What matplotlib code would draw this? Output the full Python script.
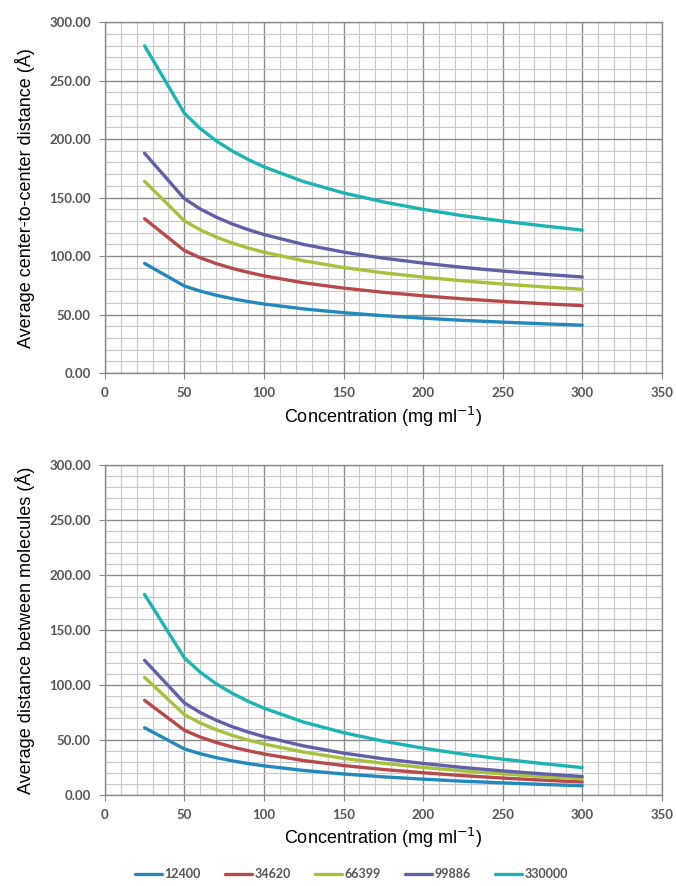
import matplotlib
matplotlib.use('Agg')
import matplotlib.pyplot as plt
from matplotlib.ticker import MultipleLocator, FormatStrFormatter

## concentrações (mg/ml) e massas molares das proteínas ##
conc = [25, 50, 60, 70, 80, 90, 100, 125, 150, 175, 200, 225, 250, 275, 300]
massas = ['12400', '34620', '66399', '99886', '330000']
cores = ['#2389bd', '#b8494b', '#a5c23a', '#5f60a8', '#1cb3b3']

## distância média centro a centro (Å) ##
centro_12400 = [93.7, 74.4, 70.0, 66.5, 63.6, 61.1, 59.0, 54.8, 51.6, 49.0, 46.9, 45.0, 43.5, 42.1, 40.9]
centro_34620 = [131.9, 104.7, 98.5, 93.6, 89.5, 86.1, 83.1, 77.1, 72.6, 69.0, 66.0, 63.4, 61.2, 59.3, 57.6]
centro_66399 = [163.9, 130.1, 122.4, 116.3, 111.2, 106.9, 103.3, 95.9, 90.2, 85.7, 82.0, 78.8, 76.1, 73.7, 71.6]
centro_99886 = [187.9, 149.1, 140.3, 133.3, 127.5, 122.6, 118.4, 109.9, 103.4, 98.2, 94.0, 90.3, 87.2, 84.5, 82.1]
centro_330000 = [279.8, 222.1, 209.0, 198.5, 189.9, 182.6, 176.3, 163.6, 154.0, 146.3, 139.9, 134.5, 129.9, 125.9, 122.2]

## distância média entre moléculas (Å) ##
entre_12400 = [61.0, 41.7, 37.3, 33.8, 30.9, 28.4, 26.3, 22.1, 18.9, 16.3, 14.2, 12.3, 10.8, 9.4, 8.2]
entre_34620 = [85.9, 58.7, 52.5, 47.6, 43.5, 40.1, 37.1, 31.1, 26.6, 23.0, 20.0, 17.4, 15.2, 13.3, 11.6]
entre_66399 = [106.8, 73.0, 65.3, 59.2, 54.1, 49.8, 46.2, 38.8, 33.1, 28.6, 24.9, 21.7, 19.0, 16.6, 14.5]
entre_99886 = [122.4, 83.6, 74.8, 67.8, 62.0, 57.1, 52.9, 44.4, 37.9, 32.7, 28.5, 24.8, 21.7, 19.0, 16.6]
entre_330000 = [182.3, 124.6, 111.5, 101.0, 92.4, 85.1, 78.8, 66.1, 56.5, 48.8, 42.4, 37.0, 32.4, 28.4, 24.7]

centro = [centro_12400, centro_34620, centro_66399, centro_99886, centro_330000]
entre = [entre_12400, entre_34620, entre_66399, entre_99886, entre_330000]

fig = plt.figure(figsize=(6.76, 8.86), dpi=100)
ax1 = fig.add_axes([0.155, 0.579, 0.824, 0.396])
ax2 = fig.add_axes([0.155, 0.103, 0.824, 0.372])

fonte_ticks = {'family': 'Lato', 'weight': 'bold', 'size': 9.5}
fonte_label = {'family': 'Liberation Sans', 'size': 13}

def monta_eixo(ax, dados, ylabel):
    for serie, nome, cor in zip(dados, massas, cores):
        ax.plot(conc, serie, color=cor, lw=2.4, label=nome,
                solid_capstyle='round', solid_joinstyle='round')
    ax.set_xlim(0, 350)
    ax.set_ylim(0, 300)
    ax.xaxis.set_major_locator(MultipleLocator(50))
    ax.xaxis.set_minor_locator(MultipleLocator(10))
    ax.yaxis.set_major_locator(MultipleLocator(50))
    ax.yaxis.set_minor_locator(MultipleLocator(10))
    ax.yaxis.set_major_formatter(FormatStrFormatter('%.2f'))
    ax.grid(which='major', color='#8a8a8a', lw=1.0)
    ax.grid(which='minor', color='#c8c8c8', lw=0.8)
    ax.set_axisbelow(True)
    for s in ax.spines.values():
        s.set_color('#8a8a8a')
        s.set_linewidth(1.0)
    ax.tick_params(which='major', length=4, color='#8a8a8a', labelcolor='#555555', pad=6)
    ax.tick_params(which='minor', length=0)
    for lab in ax.get_xticklabels() + ax.get_yticklabels():
        lab.set_fontfamily(fonte_ticks['family'])
        lab.set_fontweight(fonte_ticks['weight'])
        lab.set_fontsize(fonte_ticks['size'])
    ax.set_xlabel('Concentration (mg ml$^{-1}$)', fontdict=fonte_label, labelpad=4)
    ax.set_ylabel(ylabel, fontdict=fonte_label, labelpad=10)

monta_eixo(ax1, centro, 'Average center-to-center distance (Å)')
monta_eixo(ax2, entre, 'Average distance between molecules (Å)')

## legenda embaixo de tudo ##
fig.legend(*ax2.get_legend_handles_labels(), loc='center', bbox_to_anchor=(0.52, 0.013),
           ncol=5, frameon=False, handlelength=2.2, handletextpad=0.2, columnspacing=1.9,
           prop={'family': 'Lato', 'weight': 'bold', 'size': 9})
for t in fig.legends[0].get_texts():
    t.set_color('#555555')

fig.savefig('out.png', dpi=100)
